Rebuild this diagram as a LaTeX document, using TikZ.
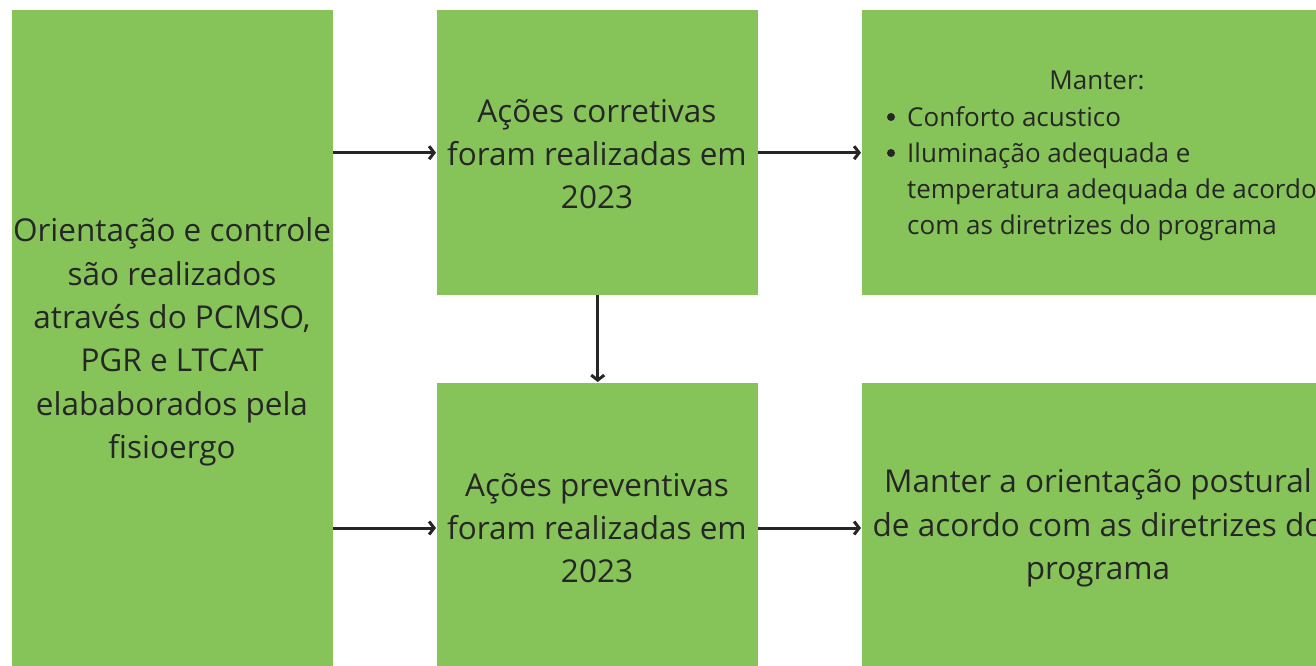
\documentclass[tikz,border=0pt]{standalone}
\usepackage{fontspec}
\setmainfont{Open Sans}
\usetikzlibrary{arrows.meta}
\definecolor{boxgreen}{HTML}{86C45A}
\definecolor{ink}{HTML}{262626}
\tikzset{
  greenbox/.style={fill=boxgreen, draw=none, inner sep=0pt, anchor=north west},
  bigtxt/.style={text=ink, align=center, inner sep=0pt, font=\fontsize{31.5}{43.4}\selectfont},
  smalltxt/.style={text=ink, inner sep=0pt, anchor=base west, font=\fontsize{26}{36}\selectfont},
  conn/.style={draw=ink, line width=3pt, -{Straight Barb[length=5pt,width=13pt,line width=3pt]}, shorten >=1pt}
}
\begin{document}
\begin{tikzpicture}[x=1pt,y=-1pt]
\useasboundingbox (0,0) rectangle (1316,666);
% boxes
\node[greenbox, minimum width=321pt, minimum height=660pt] (L) at (12,10) {};
\node[greenbox, minimum width=321pt, minimum height=285pt] (MT) at (437,10) {};
\node[greenbox, minimum width=321pt, minimum height=285pt] (MB) at (437,383) {};
\node[greenbox, minimum width=470pt, minimum height=285pt] (RT) at (862,10) {};
\node[greenbox, minimum width=470pt, minimum height=285pt] (RB) at (862,383) {};
% texts
\node[bigtxt] (Lt) at (172,342) {Orientação e controle\\são realizados\\através do PCMSO,\\PGR e LTCAT\\elababorados pela\\fisioergo};
\node[bigtxt] (MTt) at (597,154) {Ações corretivas\\foram realizadas em\\2023};
\node[bigtxt] (MBt) at (597,528) {Ações preventivas\\foram realizadas em\\2023};
\node[bigtxt] (RBt) at (1098,528) {Manter a orientação postural\\de acordo com as diretrizes do\\programa};
\node[smalltxt, anchor=base] (R0) at (1097,90) {Manter:};
\node[smalltxt] (R1) at (907,126) {Conforto acustico};
\node[smalltxt] (R2) at (907,162) {Iluminação adequada e};
\node[smalltxt] (R3) at (907,198) {temperatura adequada de acordo};
\node[smalltxt] (R4) at (907,234) {com as diretrizes do programa};
\fill[ink] (891,117) circle (4pt);
\fill[ink] (891,153) circle (4pt);
% connectors
\draw[conn] (L.east |- MT.east) -- (MT.west);
\draw[conn] (L.east |- MBt) -- (MB.west |- MBt);
\draw[conn] (MT.east) -- (RT.west |- MT.east);
\draw[conn] (MT.south) -- (MB.north);
\draw[conn] (MB.east |- MBt) -- (RB.west |- MBt);
\end{tikzpicture}
\end{document}
